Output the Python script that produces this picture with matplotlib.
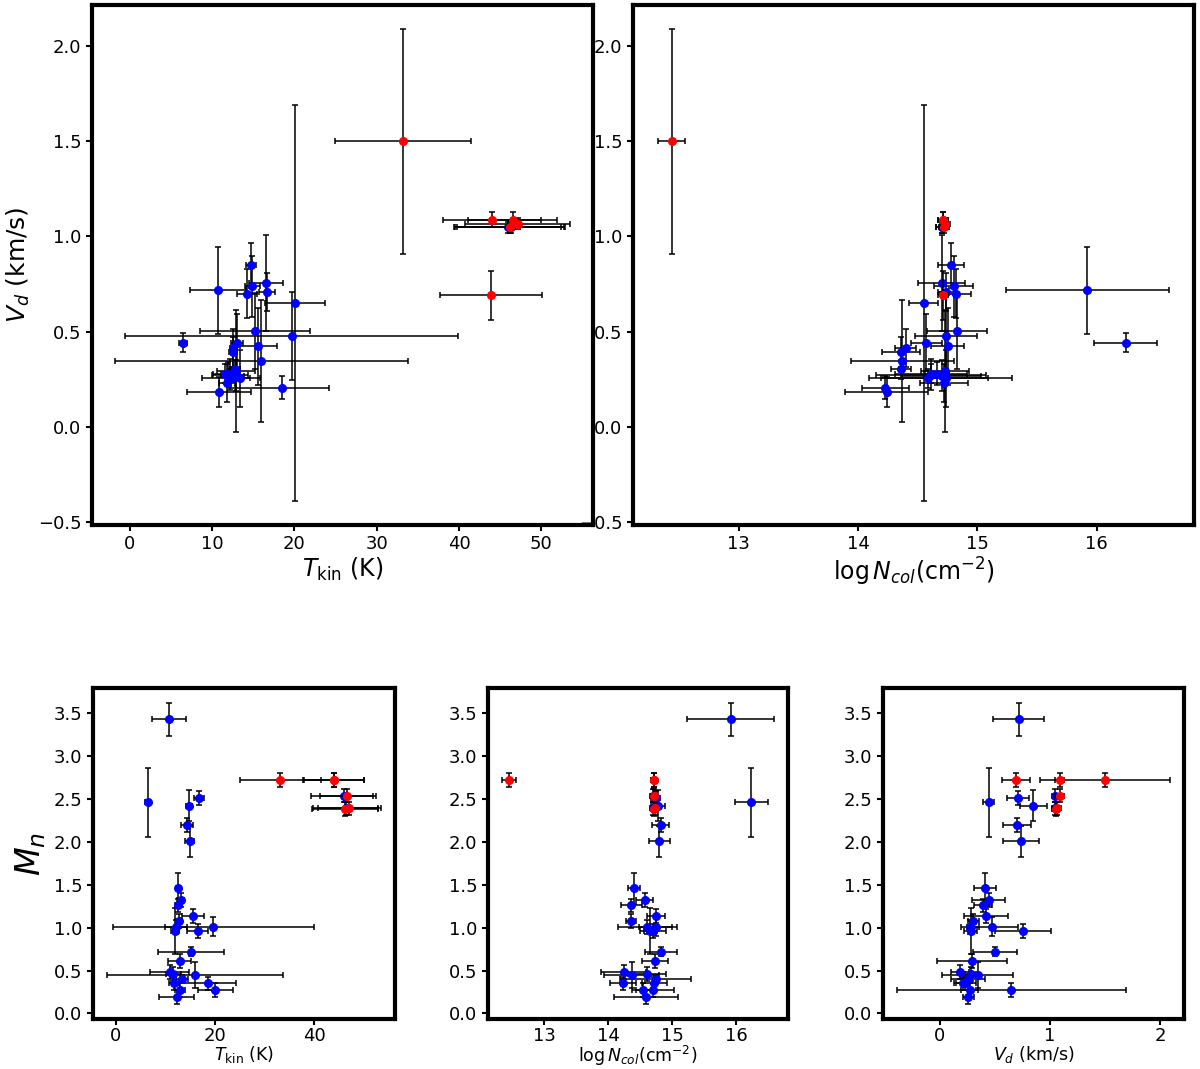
import matplotlib
matplotlib.use("Agg")
import matplotlib.pyplot as plt
import numpy as np

# ---------------- data (one entry per source) ----------------
# kinetic temperature (K)
tkin = [10.75, 6.5, 16.7, 14.75, 14.3, 14.9, 12.55, 13.07, 12.55, 15.65,
        12.75, 19.7, 16.55, 12.2, 11.9, 15.2, 12.9, 10.9, 11.6, 16.0,
        13.4, 11.8, 18.5, 12.9, 20.1, 12.3,
        45.9, 46.3,
        33.2, 43.9, 44.0, 46.5, 46.2, 47.1]
tkin_err = [3.4, 0.5, 1.0, 0.6, 1.2, 0.9, 0.4, 0.7, 0.5, 2.2,
            0.6, 20.2, 2.1, 2.2, 0.8, 6.7, 2.3, 3.9, 1.5, 17.8,
            1.2, 1.0, 5.7, 1.0, 3.6, 3.5,
            6.5, 6.5,
            8.2, 6.2, 6.0, 5.4, 6.7, 6.4]
# velocity dispersion (km/s)
vd = [0.717, 0.443, 0.708, 0.848, 0.700, 0.738, 0.414, 0.443, 0.394, 0.423,
      0.303, 0.478, 0.755, 0.275, 0.280, 0.504, 0.292, 0.184, 0.280, 0.344,
      0.256, 0.230, 0.207, 0.270, 0.650, 0.257,
      1.047, 1.047,
      1.500, 0.690, 1.087, 1.087, 1.050, 1.067]
vd_err = [0.23, 0.05, 0.10, 0.12, 0.13, 0.16, 0.10, 0.15, 0.08, 0.20,
          0.05, 0.23, 0.25, 0.08, 0.06, 0.20, 0.32, 0.08, 0.05, 0.32,
          0.15, 0.10, 0.06, 0.08, 1.04, 0.05,
          0.03, 0.03,
          0.59, 0.13, 0.04, 0.04, 0.03, 0.03]
# log column density (cm^-2)
logn = [15.92, 16.24, 14.74, 14.78, 14.82, 14.80, 14.40, 14.57, 14.36, 14.75,
        14.36, 14.74, 14.70, 14.61, 14.66, 14.83, 14.73, 14.24, 14.61, 14.37,
        14.74, 14.72, 14.23, 14.70, 14.55, 14.59,
        14.70, 14.70,
        12.44, 14.71, 14.71, 14.71, 14.72, 14.73]
logn_err = [0.68, 0.26, 0.07, 0.11, 0.13, 0.16, 0.09, 0.13, 0.16, 0.14,
            0.08, 0.26, 0.20, 0.46, 0.10, 0.25, 0.20, 0.35, 0.30, 0.43,
            0.55, 0.20, 0.20, 0.33, 0.12, 0.50,
            0.05, 0.05,
            0.11, 0.04, 0.04, 0.04, 0.04, 0.04]
# Mach number
mn = [3.43, 2.46, 2.51, 2.42, 2.20, 2.01, 1.46, 1.32, 1.26, 1.14,
      1.08, 1.01, 0.96, 1.01, 0.96, 0.72, 0.61, 0.48, 0.46, 0.45,
      0.40, 0.35, 0.35, 0.27, 0.27, 0.19,
      2.54, 2.39,
      2.72, 2.72, 2.72, 2.54, 2.38, 2.39]
mn_err = [0.19, 0.40, 0.08, 0.18, 0.08, 0.18, 0.18, 0.08, 0.08, 0.08,
          0.08, 0.11, 0.08, 0.08, 0.27, 0.05, 0.08, 0.08, 0.08, 0.15,
          0.05, 0.08, 0.08, 0.08, 0.08, 0.08,
          0.08, 0.08,
          0.08, 0.08, 0.08, 0.08, 0.08, 0.08]
# group: 0 = blue, 1 = red
group = [0] * 28 + [1] * 6

tkin, tkin_err = np.array(tkin), np.array(tkin_err)
vd, vd_err = np.array(vd), np.array(vd_err)
logn, logn_err = np.array(logn), np.array(logn_err)
mn, mn_err = np.array(mn), np.array(mn_err)
group = np.array(group)

colors = {0: "blue", 1: "red"}

lab_t = r"$T_{\rm kin}$ (K)"
lab_n = r"$\log N_{col}(\mathrm{cm}^{-2})$"
lab_v = r"$V_d$ (km/s)"
lab_m = r"$M_n$"

fig = plt.figure(figsize=(12, 10.69), dpi=100)

W, H = 1200.0, 1069.0
def box(l, r, t, b):
    return [l / W, 1 - b / H, (r - l) / W, (b - t) / H]

ax1 = fig.add_axes(box(92, 593, 5, 525))
ax2 = fig.add_axes(box(633, 1194, 5, 525))
ax3 = fig.add_axes(box(93, 395, 688, 1019))
ax4 = fig.add_axes(box(488, 788, 688, 1019))
ax5 = fig.add_axes(box(883, 1184, 688, 1019))

def draw(ax, x, xe, y, ye, pad=3.5):
    for g in (0, 1):
        m = group == g
        ax.errorbar(x[m], y[m], xerr=xe[m], yerr=ye[m], fmt="o",
                    color=colors[g], ms=5.5, mec=colors[g],
                    ecolor="black", elinewidth=1.1, capsize=2.5,
                    capthick=1.1, zorder=2 + g)
    for s in ax.spines.values():
        s.set_linewidth(3)
    ax.tick_params(width=1.5, length=4, labelsize=13)
    ax.tick_params(axis="x", pad=pad)

draw(ax1, tkin, tkin_err, vd, vd_err)
draw(ax2, logn, logn_err, vd, vd_err)
draw(ax3, tkin, tkin_err, mn, mn_err, pad=2)
draw(ax4, logn, logn_err, mn, mn_err, pad=2)
draw(ax5, vd, vd_err, mn, mn_err, pad=2)

ax1.set_xlabel(lab_t, fontsize=17, labelpad=2)
ax1.set_ylabel(lab_v, fontsize=18)
ax2.set_xlabel(lab_n, fontsize=17, labelpad=2)
ax1.set_xticks([0, 10, 20, 30, 40, 50])
ax2.set_xticks([13, 14, 15, 16])
for a in (ax1, ax2):
    a.set_yticks([-0.5, 0.0, 0.5, 1.0, 1.5, 2.0])

ax3.set_xlabel(lab_t, fontsize=12.5, labelpad=-1)
ax4.set_xlabel(lab_n, fontsize=12.5, labelpad=-1)
ax5.set_xlabel(lab_v, fontsize=12.5, labelpad=-1)
ax3.set_ylabel(lab_m, fontsize=24)
ax3.set_xticks([0, 20, 40])
ax4.set_xticks([13, 14, 15, 16])
ax5.set_xticks([0, 1, 2])
for a in (ax3, ax4, ax5):
    a.set_yticks(np.arange(0, 3.51, 0.5))

fig.savefig("out.png", dpi=100)
